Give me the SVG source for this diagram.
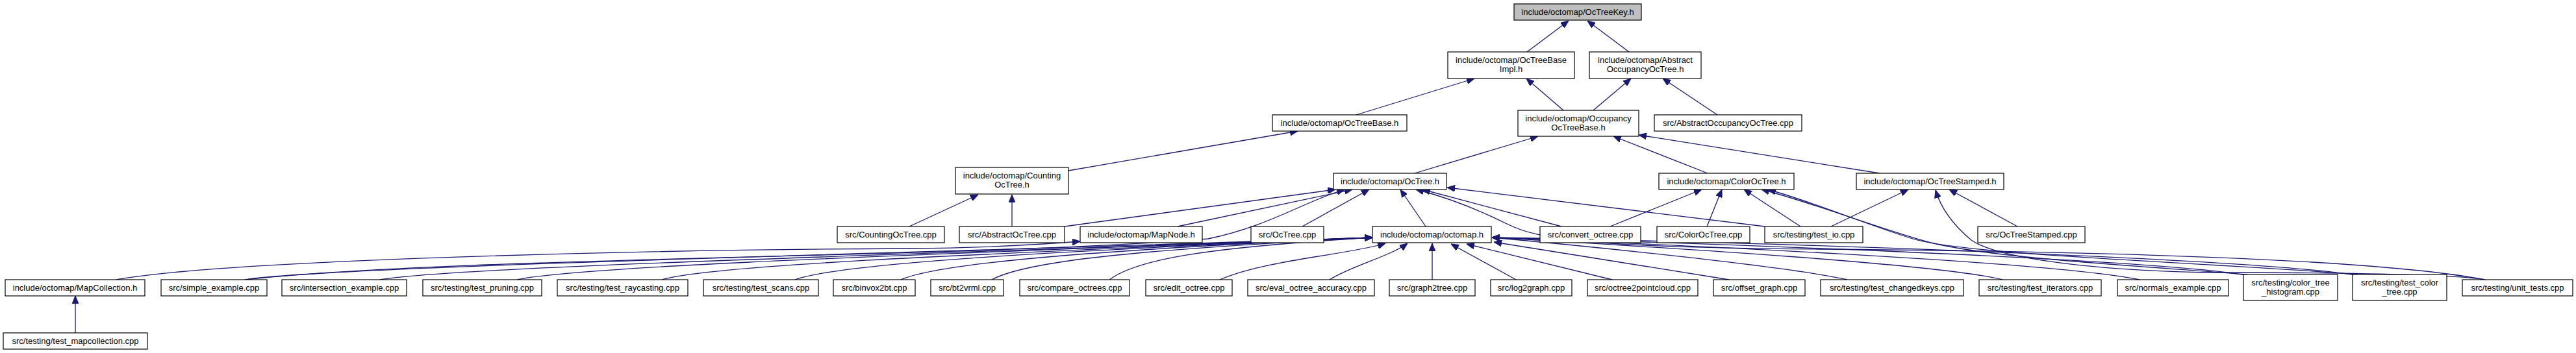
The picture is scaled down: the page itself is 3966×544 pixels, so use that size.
<svg xmlns="http://www.w3.org/2000/svg" width="3966" height="544" viewBox="0 0 3966 544">
<style>
.n rect{fill:#fff;stroke:#000;stroke-width:1.2}
.n.root rect{fill:#bfbfbf}
.n text{font-family:"Liberation Sans",Arial,sans-serif;font-size:13px;text-anchor:middle;fill:#000}
.e path{fill:none;stroke:#191970;stroke-width:1.3;marker-end:url(#arr)}
</style>
<defs>
<marker id="arr" markerWidth="12" markerHeight="10" refX="12" refY="5" orient="auto" markerUnits="userSpaceOnUse"><path d="M0,0 L12,5 L0,10 z" fill="#191970" stroke="#191970" stroke-width="1"/></marker>
</defs>
<rect width="3966" height="544" fill="#fff"/>
<g id="edges" class="e">
<path d="M2351,80 L2415,32"/>
<path d="M2508,80 L2444,32"/>
<path d="M2088,177 L2270,121"/>
<path d="M2407,170 L2350,121"/>
<path d="M2453,170 L2511,121"/>
<path d="M2644,177 L2560,121"/>
<path d="M1645,263 L1998,202"/>
<path d="M2178,267 L2368,210"/>
<path d="M2629,267 L2484,210"/>
<path d="M2894,267 L2523,208"/>
<path d="M1400,349 L1506,300"/>
<path d="M1558,349 L1558,300"/>
<path d="M1639,349 L2056,292"/>
<path d="M1813,349 L2082,292"/>
<path d="M2005,349 L2108,292"/>
<path d="M2195,349 L2156,292"/>
<path d="M2404,349 L2190,292"/>
<path d="M2717,349 L2228,289"/>
<path d="M2479,349 L2620,292"/>
<path d="M2628,349 L2651,292"/>
<path d="M2772,349 L2685,292"/>
<path d="M2819,349 L2938,292"/>
<path d="M3106,349 L3001,292"/>
<path d="M116,513 L116,456"/>
<path d="M179,431 C350,400 1000,385 1400,383 C1520,382 1600,377 1663,372"/>
<path d="M377,431 C700,395 1500,398 1860,368 C1950,350 2010,310 2070,292"/>
<path d="M3826,431 C3650,398 3200,387 2800,384 C2450,381 2370,370 2320,345 C2270,320 2220,302 2180,292"/>
<path d="M3826,431 C3780,423 3600,420 3400,420 C3200,416 3070,395 3035,370 C3005,345 2988,320 2980,293"/>
<path d="M3460,423 C3300,410 3060,398 2965,372 C2880,348 2790,312 2712,292"/>
<path d="M3630,423 C3400,404 3030,394 2945,368 C2870,345 2800,314 2722,292"/>
<path d="M377,431 C500,410 1500,388 2113,366"/>
<path d="M585,431 C700,410 1500,390 2113,366"/>
<path d="M796,431 C900,408 1550,388 2113,366"/>
<path d="M1019,431 C1100,406 1600,388 2113,366"/>
<path d="M1224,431 C1300,404 1650,386 2113,366"/>
<path d="M1387,431 C1450,404 1700,385 2113,366"/>
<path d="M1527,431 C1580,402 1750,385 2113,366"/>
<path d="M1708,431 C1750,400 1850,382 2113,366"/>
<path d="M1878,431 C1950,400 2080,392 2133,375"/>
<path d="M2047,431 C2080,410 2140,395 2167,375"/>
<path d="M2205,431 L2205,375"/>
<path d="M2334,431 L2234,376"/>
<path d="M2482,431 L2258,376"/>
<path d="M2662,431 L2300,373"/>
<path d="M2844,431 C2750,410 2450,380 2297,366"/>
<path d="M3083,431 C2980,405 2500,378 2297,366"/>
<path d="M3294,431 C3150,402 2550,376 2297,366"/>
<path d="M3458,424 C3300,398 2600,374 2297,366"/>
<path d="M3626,424 C3450,396 2650,372 2297,366"/>
</g>
<g id="n_key" class="n root"><rect x="2331" y="6" width="196" height="25"/><text x="2429" y="23">include/octomap/OcTreeKey.h</text></g>
<g id="n_impl" class="n"><rect x="2229" y="80" width="195" height="41"/><text x="2326.5" y="97">include/octomap/OcTreeBase</text><text x="2326.5" y="111">Impl.h</text></g>
<g id="n_aoot" class="n"><rect x="2447" y="80" width="172" height="41"/><text x="2533" y="97">include/octomap/Abstract</text><text x="2533" y="111">OccupancyOcTree.h</text></g>
<g id="n_base" class="n"><rect x="1959" y="177" width="207" height="25"/><text x="2062.5" y="194">include/octomap/OcTreeBase.h</text></g>
<g id="n_occ" class="n"><rect x="2337" y="170" width="186" height="40"/><text x="2430" y="187">include/octomap/Occupancy</text><text x="2430" y="201">OcTreeBase.h</text></g>
<g id="n_aootcpp" class="n"><rect x="2547" y="177" width="227" height="25"/><text x="2660.5" y="194">src/AbstractOccupancyOcTree.cpp</text></g>
<g id="n_counting" class="n"><rect x="1471" y="258" width="174" height="41"/><text x="1558" y="275">include/octomap/Counting</text><text x="1558" y="289">OcTree.h</text></g>
<g id="n_octree" class="n"><rect x="2053" y="267" width="174" height="25"/><text x="2140" y="284">include/octomap/OcTree.h</text></g>
<g id="n_color" class="n"><rect x="2554" y="267" width="208" height="25"/><text x="2658" y="284">include/octomap/ColorOcTree.h</text></g>
<g id="n_stamped" class="n"><rect x="2858" y="267" width="227" height="25"/><text x="2971.5" y="284">include/octomap/OcTreeStamped.h</text></g>
<g id="n_countingcpp" class="n"><rect x="1289" y="349" width="165" height="25"/><text x="1371.5" y="366">src/CountingOcTree.cpp</text></g>
<g id="n_abstractcpp" class="n"><rect x="1477" y="349" width="162" height="25"/><text x="1558" y="366">src/AbstractOcTree.cpp</text></g>
<g id="n_mapnode" class="n"><rect x="1663" y="349" width="188" height="25"/><text x="1757" y="366">include/octomap/MapNode.h</text></g>
<g id="n_octreecpp" class="n"><rect x="1926" y="349" width="112" height="25"/><text x="1982" y="366">src/OcTree.cpp</text></g>
<g id="n_octomaph" class="n"><rect x="2113" y="349" width="183" height="25"/><text x="2204.5" y="366">include/octomap/octomap.h</text></g>
<g id="n_convert" class="n"><rect x="2371" y="349" width="155" height="25"/><text x="2448.5" y="366">src/convert_octree.cpp</text></g>
<g id="n_colorcpp" class="n"><rect x="2551" y="349" width="143" height="25"/><text x="2622.5" y="366">src/ColorOcTree.cpp</text></g>
<g id="n_testio" class="n"><rect x="2717" y="349" width="151" height="25"/><text x="2792.5" y="366">src/testing/test_io.cpp</text></g>
<g id="n_stampedcpp" class="n"><rect x="3045" y="349" width="165" height="25"/><text x="3127.5" y="366">src/OcTreeStamped.cpp</text></g>
<g id="n_mapcoll" class="n"><rect x="8" y="431" width="215" height="25"/><text x="115.5" y="448">include/octomap/MapCollection.h</text></g>
<g id="n_simple" class="n"><rect x="248" y="431" width="163" height="25"/><text x="329.5" y="448">src/simple_example.cpp</text></g>
<g id="n_intersection" class="n"><rect x="434" y="431" width="192" height="25"/><text x="530" y="448">src/intersection_example.cpp</text></g>
<g id="n_pruning" class="n"><rect x="651" y="431" width="183" height="25"/><text x="742.5" y="448">src/testing/test_pruning.cpp</text></g>
<g id="n_raycasting" class="n"><rect x="858" y="431" width="201" height="25"/><text x="958.5" y="448">src/testing/test_raycasting.cpp</text></g>
<g id="n_scans" class="n"><rect x="1083" y="431" width="177" height="25"/><text x="1171.5" y="448">src/testing/test_scans.cpp</text></g>
<g id="n_binvox" class="n"><rect x="1283" y="431" width="126" height="25"/><text x="1346" y="448">src/binvox2bt.cpp</text></g>
<g id="n_bt2vrml" class="n"><rect x="1433" y="431" width="112" height="25"/><text x="1489" y="448">src/bt2vrml.cpp</text></g>
<g id="n_compare" class="n"><rect x="1570" y="431" width="169" height="25"/><text x="1654.5" y="448">src/compare_octrees.cpp</text></g>
<g id="n_edit" class="n"><rect x="1764" y="431" width="133" height="25"/><text x="1830.5" y="448">src/edit_octree.cpp</text></g>
<g id="n_eval" class="n"><rect x="1921" y="431" width="195" height="25"/><text x="2018.5" y="448">src/eval_octree_accuracy.cpp</text></g>
<g id="n_graph2tree" class="n"><rect x="2139" y="431" width="132" height="25"/><text x="2205" y="448">src/graph2tree.cpp</text></g>
<g id="n_log2graph" class="n"><rect x="2295" y="431" width="125" height="25"/><text x="2357.5" y="448">src/log2graph.cpp</text></g>
<g id="n_octree2pc" class="n"><rect x="2444" y="431" width="170" height="25"/><text x="2529" y="448">src/octree2pointcloud.cpp</text></g>
<g id="n_offset" class="n"><rect x="2638" y="431" width="141" height="25"/><text x="2708.5" y="448">src/offset_graph.cpp</text></g>
<g id="n_changedkeys" class="n"><rect x="2803" y="431" width="220" height="25"/><text x="2913" y="448">src/testing/test_changedkeys.cpp</text></g>
<g id="n_iterators" class="n"><rect x="3047" y="431" width="188" height="25"/><text x="3141" y="448">src/testing/test_iterators.cpp</text></g>
<g id="n_normals" class="n"><rect x="3260" y="431" width="171" height="25"/><text x="3345.5" y="448">src/normals_example.cpp</text></g>
<g id="n_cth" class="n"><rect x="3454" y="423" width="145" height="40"/><text x="3526.5" y="440">src/testing/color_tree</text><text x="3526.5" y="454">_histogram.cpp</text></g>
<g id="n_tct" class="n"><rect x="3622" y="423" width="145" height="40"/><text x="3694.5" y="440">src/testing/test_color</text><text x="3694.5" y="454">_tree.cpp</text></g>
<g id="n_unit" class="n"><rect x="3791" y="431" width="170" height="25"/><text x="3876" y="448">src/testing/unit_tests.cpp</text></g>
<g id="n_testmapcoll" class="n"><rect x="5" y="513" width="222" height="25"/><text x="116" y="530">src/testing/test_mapcollection.cpp</text></g>
</svg>
